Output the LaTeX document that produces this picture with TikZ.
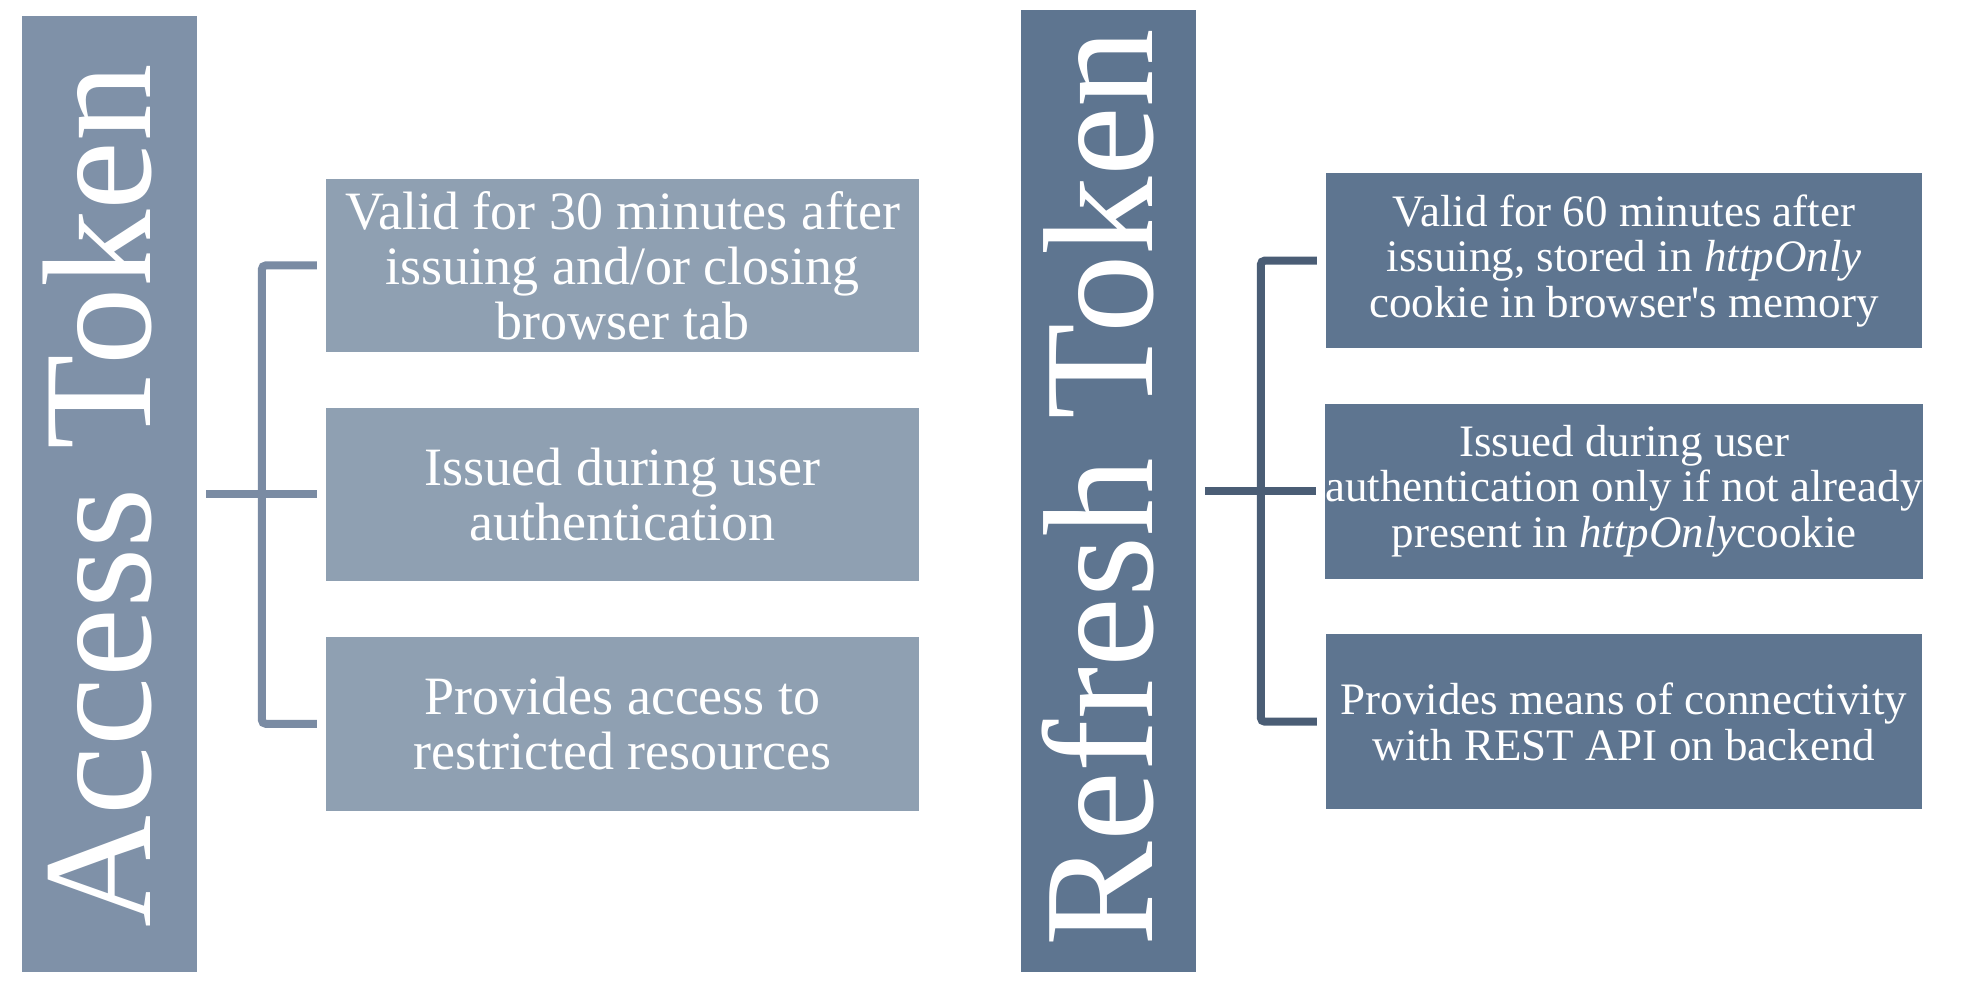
\documentclass[tikz,border=0pt]{standalone}
\usepackage{fontspec}
\setmainfont{Liberation Serif}
\definecolor{accbar}{HTML}{7F91A8}
\definecolor{accbox}{HTML}{8FA0B2}
\definecolor{accline}{HTML}{7A8BA3}
\definecolor{refbar}{HTML}{5E7590}
\definecolor{refline}{HTML}{4A5D75}
\begin{document}
\begin{tikzpicture}[x=1pt,y=-1pt,
  bar/.style={fill=#1, draw=none, inner sep=0pt},
  titletext/.style={text=white, rotate=90, anchor=base, inner sep=0pt},
  accb/.style={fill=accbox, draw=none, text=white, align=center, inner sep=0pt,
    minimum width=593pt, minimum height=173.5pt, font=\fontsize{54}{55}\selectfont},
  refb/.style={fill=refbar, draw=none, text=white, align=center, inner sep=0pt,
    minimum width=596pt, minimum height=175pt, font=\fontsize{45}{45.5}\selectfont},
  brace/.style={draw=#1, line width=8pt, rounded corners=4pt}
]
\useasboundingbox (0,0) rectangle (1961,993);

% left column
\node[bar=accbar, minimum width=175pt, minimum height=956pt] (atbar) at (109.5,494) {};
\node[titletext, font=\fontsize{155}{160}\selectfont] (attitle) at (150,495.6) {Access Token};
\node[accb] (a1) at (622.5,265.4) {Valid for 30 minutes after\\issuing and/or closing\\browser tab};
\node[accb] (a2) at (622.5,494.3) {Issued during user\\authentication};
\node[accb] (a3) at (622.5,723.8) {Provides access to\\restricted resources};

\draw[brace=accline] ([xshift=-9pt]a1.west) -- ++(-55,0) |- ([xshift=-9pt]a3.west);
\draw[brace=accline] ([xshift=9pt]atbar.east |- a2.west) -- ([xshift=-9pt]a2.west);

% right column
\node[bar=refbar, minimum width=175pt, minimum height=962pt] (rtbar) at (1108.5,491) {};
\node[titletext, font=\fontsize{157}{160}\selectfont] (rttitle) at (1152,487.7) {Refresh Token};
\node[refb] (r1) at (1624,260.6) {Valid for 60 minutes after\\issuing, stored in \textit{httpOnly}\\cookie in browser\textquotesingle s memory};
\node[refb] (r2) at (1624,491.1) {Issued during user\\authentication only if not already\\present in \textit{httpOnly}cookie};
\node[refb] (r3) at (1624,721.7) {Provides means of connectivity\\with REST API on backend};

\draw[brace=refline] ([xshift=-9pt]r1.west) -- ++(-56,0) |- ([xshift=-9pt]r3.west);
\draw[brace=refline] ([xshift=9pt]rtbar.east |- r2.west) -- ([xshift=-9pt]r2.west);
\end{tikzpicture}
\end{document}
